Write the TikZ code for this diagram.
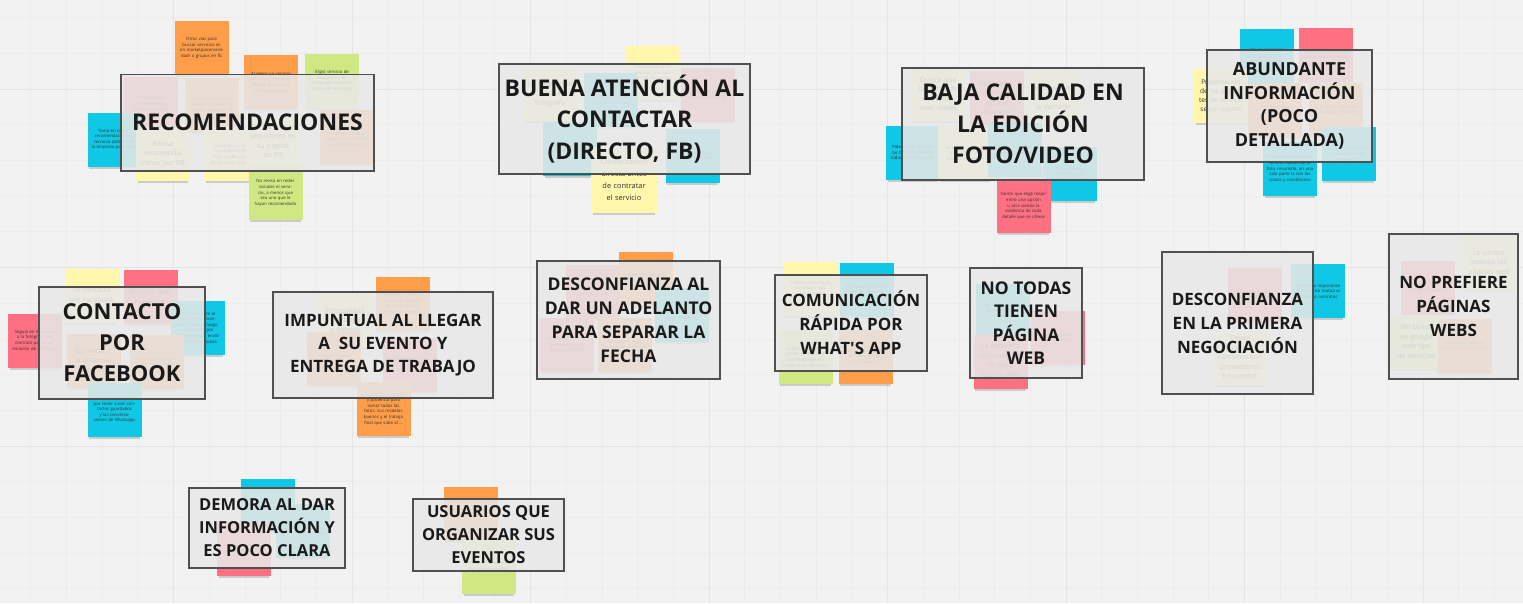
\documentclass[tikz,border=0pt]{standalone}
\usepackage{fontspec}
\setmainfont{Open Sans}
\usepackage{tikz}
\usetikzlibrary{shadows}

\definecolor{board}{RGB}{242,242,242}
\definecolor{gridminor}{RGB}{236,236,236}
\definecolor{gridmajor}{RGB}{228,228,228}
\definecolor{notecyan}{RGB}{14,200,230}
\definecolor{notepink}{RGB}{255,112,130}
\definecolor{noteorange}{RGB}{255,157,72}
\definecolor{noteyellow}{RGB}{255,247,172}
\definecolor{notegreen}{RGB}{208,232,130}
\definecolor{headfill}{RGB}{232,232,232}
\definecolor{headline}{RGB}{80,80,80}
\definecolor{headtext}{RGB}{26,26,26}

\begin{document}
\begin{tikzpicture}[x=1pt,y=-1pt]
\tikzstyle{note} = [minimum width=54pt, minimum height=54pt, inner sep=2pt, text width=47pt, align=center,
  font=\fontsize{4.3}{5.6}\selectfont, text=black!80,
  drop shadow={shadow xshift=0pt, shadow yshift=-4pt, shadow scale=0.94, fill=black, opacity=0.16}]
\tikzstyle{big} = [font=\fontsize{7}{9.5}\selectfont]
\tikzstyle{cy} = [note, fill=notecyan]
\tikzstyle{pk} = [note, fill=notepink]
\tikzstyle{or} = [note, fill=noteorange]
\tikzstyle{ye} = [note, fill=noteyellow]
\tikzstyle{gr} = [note, fill=notegreen]
\tikzstyle{head} = [draw=headline, line width=1.2pt, fill=headfill, fill opacity=0.88, text opacity=1,
  align=center, text=headtext, inner sep=0pt, font=\bfseries\fontsize{17}{24}\selectfont]

% tablero
\useasboundingbox (0,0) rectangle (1523,603);
\fill[board] (0,0) rectangle (1523,603);
\foreach \k in {0,...,43} \draw[gridminor, line width=0.8pt] ({-5+35.7*\k},0) -- ({-5+35.7*\k},603);
\foreach \k in {0,...,18} \draw[gridminor, line width=0.8pt] (0,{-18.1+35.7*\k}) -- (1523,{-18.1+35.7*\k});
\foreach \k in {0,...,8} \draw[gridmajor, line width=1pt] ({-5+178.5*\k},0) -- ({-5+178.5*\k},603);
\foreach \k in {0,...,3} \draw[gridmajor, line width=1pt] (0,{-89.5+178.5*\k}) -- (1523,{-89.5+178.5*\k});

% recomendaciones
\node[or] (rec1) at (201.5,48) {Otras vías para buscar servicios es en marketplace/varie dad/ o grupos en fb};
\node[or] (rec2) at (271,82) {Al elegir un servicio de fotos y filmación se guía primero de la recomendación};
\node[gr] (rec3) at (332,81) {Eligió servicio de fotografía y filmación por recomendación de un amigo};
\node[pk] (rec4) at (151,104) {En FB se guía de recomendaciones de amigos};
\node[or] (rec5) at (212,105) {Si no encuentra recomendaciones de amigos busca en FB};
\node[or] (rec6) at (347,137) {Contrató por recomendación de su amigo en la fiesta del cumple de su hija};
\node[cy] (rec7) at (114.5,139.5) {Toma en cuenta recomendaciones y cercanía (distrito) de la empresa para elegir};
\node[ye, big] (rec8) at (163,154) {Revisa recomendaciones por FB.};
\node[ye] (rec9) at (231,154) {Consulta las recomendaciones hace a todo antes de tomar el servicio};
\node[ye, big] (rec10) at (273,141) {Se fija en los seguidores en su página de FB};
\node[gr] (rec11) at (275.5,193) {No revisa en redes sociales el servicio, a menos que sea uno que le hayan recomendado};
\node[head, minimum width=253pt, minimum height=96.5pt, font=\bfseries\fontsize{23}{31.5}\selectfont] (recH) at (247.5,122.75) {RECOMENDACIONES};

% buena atencion
\node[ye] (aten1) at (653,73) {Valora mucho la atención y la rapidez en responder};
\node[ye, big] (aten2) at (550,94) {Le responden solo la fotógrafa};
\node[cy] (aten3) at (611,100) {Recibió buena atención al contactar};
\node[pk] (aten4) at (708,95) {Le gustó la atención que recibió por FB};
\node[cy] (aten5) at (570,149) {Le atendieron rápido por chat};
\node[cy] (aten7) at (692.5,156) {Le dieron confianza al responder rápido};
\node[ye, minimum width=67pt, minimum height=66pt, text width=60pt, font=\fontsize{7.4}{12}\selectfont] (aten6) at (624,180) {Conversación directa antes de contratar el servicio};
\node[head, minimum width=251pt, minimum height=110pt, font=\bfseries\fontsize{23}{31.5}\selectfont] (atenH) at (624.5,119) {BUENA ATENCIÓN AL\\CONTACTAR\\(DIRECTO, FB)};

% calidad
\node[ye, big] (cal1) at (938,94) {Quiere que las fotos de sus redes sean reales};
\node[pk, big] (cal2) at (997,98) {Pone atención y le agrada conocer};
\node[ye, big] (cal3) at (1053,98) {No es seguro al tomar la decisión};
\node[cy] (cal4) at (913,153) {Pide que le enseñen las fotos y videos de trabajos profesionales};
\node[ye] (cal5) at (965,153) {Se fija en la calidad de las fotos de eventos anteriores};
\node[cy] (cal6) at (1015,150) {Revisa los videos de otros eventos};
\node[cy] (cal7) at (1070,174) {Busca trabajos realizados en videos en Youtube};
\node[pk] (cal8) at (1023.5,206) {Siente que elige mejor entre una opción u otra viendo la evidencia de cada detalle que se ofrece};
\node[head, minimum width=242pt, minimum height=112pt, font=\bfseries\fontsize{23}{31.5}\selectfont] (calH) at (1023,124) {BAJA CALIDAD EN\\LA EDICIÓN\\FOTO/VIDEO};

% informacion
\node[cy] (info1) at (1267,56) {No es necesario dar toda la información de golpe};
\node[pk] (info2) at (1326,55) {La empresa le ofreció 03 paquetes diferentes};
\node[ye, font=\fontsize{6.5}{9}\selectfont] (info3) at (1221,96) {Presentación de los paquetes de servicio según evento};
\node[or] (info4) at (1275,110) {Recibió mucha información};
\node[or] (info5) at (1336,110) {Le envió los paquetes en archivos separados};
\node[cy] (info7) at (1348.5,154) {Le gustaría tener menos opciones para elegir};
\node[cy] (info6) at (1290,169) {Prefiere que le envíen la información de la foto, resumido, en una sola parte la con los costos y condiciones};
\node[head, minimum width=165pt, minimum height=112pt, font=\bfseries\fontsize{18}{23.5}\selectfont] (infoH) at (1289.5,106) {ABUNDANTE\\INFORMACIÓN\\(POCO\\DETALLADA)};

% facebook
\node[ye, big] (fb1) at (91.5,296) {Se contacta por Facebook};
\node[pk, big] (fb2) at (150.5,297) {Prefiere usar Facebook};
\node[pk] (fb3) at (35,340.5) {Seguía en Facebook a la fotógrafa que contrató por su admiración de su trabajo};
\node[cy] (fb4) at (198,327.5) {Su mensaje en el FB fue la comunicación inicial, luego se contacta por WhatsApp y le envió las conversaciones};
\node[or, big] (fb5) at (93.5,361) {Contacta a la empresa por FB};
\node[or] (fb6) at (156.5,362) {Escribe por inbox para pedir información};
\node[cy] (fb7) at (114.5,409.5) {Usa el WhatsApp por tener a mis contactos guardados y las conversaciones de Whatsapp};
\node[head, minimum width=166pt, minimum height=112pt, font=\bfseries\fontsize{22}{31}\selectfont] (fbH) at (122,343) {CONTACTO\\POR\\FACEBOOK};

% puntualidad
\node[or] (punt1) at (402.5,303.5) {Le gustó la puntualidad del equipo de fotógrafos en el día de su boda};
\node[ye, big] (punt2) at (345,321) {Puntualidad y entrega a tiempo};
\node[or] (punt3) at (334,358.5) {Llegaron tarde al evento};
\node[pk] (punt4) at (410,364.5) {Demoraron en entregar las fotos del evento};
\node[or] (punt5) at (383.5,409) {Valora la presentación y paciencia para tomar todas las fotos, sus modelos buenos y el trabajo final que sabe al ...};
\node[head, minimum width=220pt, minimum height=106pt, font=\bfseries\fontsize{17}{23}\selectfont] (puntH) at (383,345) {IMPUNTUAL AL LLEGAR\\A\ \ SU EVENTO Y\\ENTREGA DE TRABAJO};

% adelanto
\node[or] (adel1) at (645.5,278.5) {Pidieron un adelanto para separar la fecha};
\node[pk] (adel2) at (593,291.5) {Desconfía de pagar por adelantado};
\node[cy] (adel3) at (681.5,315) {Tiene miedo a no recibir el servicio};
\node[pk] (adel4) at (567,345) {Le pidieron el 50\% de adelanto para separar la fecha};
\node[or] (adel5) at (624.5,345) {Adelantó el pago después de conversar};
\node[head, minimum width=183pt, minimum height=118pt, font=\bfseries\fontsize{17.5}{24}\selectfont] (adelH) at (628.5,320) {DESCONFIANZA AL\\DAR UN ADELANTO\\PARA SEPARAR LA\\FECHA};

% whatsapp
\node[ye] (wsp1) at (810.5,288.5) {Prefiere contactarse por What\textquotesingle s app, y por llamadas};
\node[cy] (wsp2) at (867,290) {En la página de FB a veces no responden};
\node[gr] (wsp3) at (805.5,357) {Todas las coordinaciones es más fácil por WhatsApp, llamadas o vía telefónica};
\node[or] (wsp4) at (865.5,356.5) {Le es más rápida la comunicación con la empresa};
\node[head, minimum width=152pt, minimum height=96pt, font=\bfseries\fontsize{17}{24}\selectfont] (wspH) at (851,323) {COMUNICACIÓN\\RÁPIDA POR\\WHAT\textquotesingle S APP};

% pagina web
\node[cy] (web1) at (1003,311) {No encontró páginas web de los proveedores};
\node[pk] (web2) at (1057.5,337.5) {Buscó la web y no la encontró};
\node[pk, big] (web3) at (1000.5,361.5) {La empresa que contrató no tenía página web};
\node[head, minimum width=112pt, minimum height=110pt, font=\bfseries\fontsize{17.5}{23.5}\selectfont] (webH) at (1026,323) {NO TODAS\\TIENEN\\PÁGINA\\WEB};

% confianza
\node[pk] (conf1) at (1254.5,295) {Desconfió al inicio de la negociación};
\node[cy] (conf2) at (1318,291) {Considera importante la confianza mutua al hacer los contratos};
\node[ye, big] (conf3) at (1240,357.5) {Desea mejor acercamiento con proveedores frecuentes};
\node[head, minimum width=151pt, minimum height=142pt, font=\bfseries\fontsize{17}{24}\selectfont] (confH) at (1237.5,323) {DESCONFIANZA\\EN LA PRIMERA\\NEGOCIACIÓN};

% paginas webs
\node[ye, big] (pref1) at (1489,263) {Le parece tedioso las páginas web};
\node[pk] (pref2) at (1427.5,287.5) {Prefiere buscar por redes sociales};
\node[gr, big] (pref3) at (1416.5,341.5) {No busca en google este tipo de servicios};
\node[or] (pref4) at (1464.5,346) {Las páginas web no muestran lo que busca};
\node[head, minimum width=129pt, minimum height=145pt, font=\bfseries\fontsize{17}{24}\selectfont] (prefH) at (1453.5,306.5) {NO PREFIERE\\PÁGINAS\\WEBS};

% demora
\node[cy] (dem1) at (267.5,506) {No le respondieron rápido};
\node[cy] (dem2) at (303,530.5) {La información que le dieron no fue clara};
\node[pk] (dem3) at (244,549) {Demoraron en enviarle los precios};
\node[head, minimum width=156pt, minimum height=80pt, font=\bfseries\fontsize{16.5}{23}\selectfont] (demH) at (267,528) {DEMORA AL DAR\\INFORMACIÓN Y\\ES POCO CLARA};

% organizar
\node[or] (org1) at (470.5,513.5) {Siempre se encargó de organizar sus eventos};
\node[gr] (org2) at (489,566.5) {Siempre ha asumido esa responsabilidad.};
\node[head, minimum width=151pt, minimum height=72pt, font=\bfseries\fontsize{16.5}{23}\selectfont] (orgH) at (488.5,535) {USUARIOS QUE\\ORGANIZAR SUS\\EVENTOS};
\end{tikzpicture}
\end{document}
